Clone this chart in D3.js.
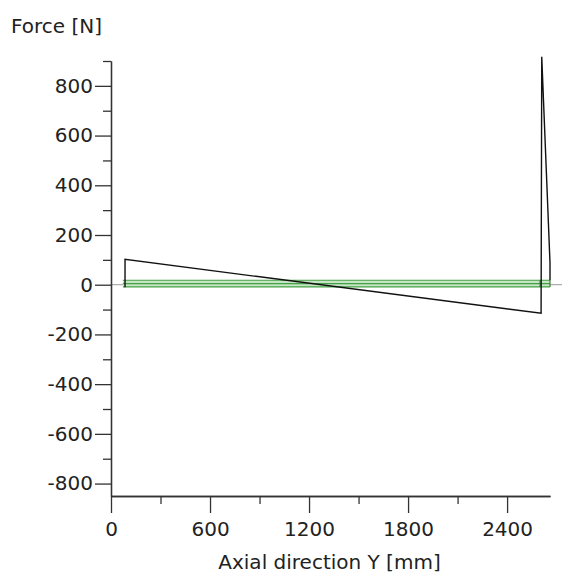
<!DOCTYPE html>
<html>
<head>
<meta charset="utf-8">
<script src="https://cdn.jsdelivr.net/npm/d3@7"></script>
<style>
  body { margin: 0; background: #fff; }
  svg { display: block; }
  text { font-family: "DejaVu Sans", sans-serif; fill: #222; }
</style>
</head>
<body>
<script>
// force line (shear force along the axis)
var posMm  = [85, 85, 2606, 2610, 2660, 2660];
var forceN = [-10, 102, -115, 917, 88, 18];

// green reference band around zero
var bandStart = 72, bandEnd = 2660;
var bandLevels = [18, 4, -9];

var xMajorTicks = [0, 600, 1200, 1800, 2400];
var xMinorTicks = [300, 900, 1500, 2100];
var yMajorTicks = [-800, -600, -400, -200, 0, 200, 400, 600, 800];
var yMinorTicks = [-700, -500, -300, -100, 100, 300, 500, 700, 900];

var width = 562, height = 577;

var svg = d3.select("body").append("svg")
    .attr("width", width)
    .attr("height", height);

var x = d3.scaleLinear()
    .domain([0, 2660])
    .range([111, 550]);

var y = d3.scaleLinear()
    .domain([-850, 900])
    .range([496, 61]);

var plain = function(d) { return String(d); };

// zero line
svg.append("line")
    .attr("x1", x(0)).attr("x2", width)
    .attr("y1", y(0)).attr("y2", y(0))
    .style("stroke", "#9a9a9a")
    .style("stroke-width", 1);

// green band
svg.append("rect")
    .attr("x", x(bandStart))
    .attr("y", y(d3.max(bandLevels)))
    .attr("width", x(bandEnd) - x(bandStart))
    .attr("height", y(d3.min(bandLevels)) - y(d3.max(bandLevels)))
    .style("fill", "#c4e6c4");

svg.selectAll(".band")
    .data(bandLevels)
  .enter().append("line")
    .attr("class", "band")
    .attr("x1", x(bandStart)).attr("x2", x(bandEnd))
    .attr("y1", function(d) { return y(d); })
    .attr("y2", function(d) { return y(d); })
    .style("stroke", "#45a045")
    .style("stroke-width", 1.2);

svg.selectAll(".bandcap")
    .data([2600, bandEnd])
  .enter().append("line")
    .attr("class", "bandcap")
    .attr("x1", function(d) { return x(d); })
    .attr("x2", function(d) { return x(d); })
    .attr("y1", y(d3.max(bandLevels)))
    .attr("y2", y(d3.min(bandLevels)))
    .style("stroke", "#3a7a3a")
    .style("stroke-width", 1.2);

// force line
var pts = posMm.map(function(d, i) { return [d, forceN[i]]; });
var line = d3.line()
    .x(function(d) { return x(d[0]); })
    .y(function(d) { return y(d[1]); });

svg.append("path")
    .datum(pts)
    .attr("d", line)
    .style("fill", "none")
    .style("stroke", "#111")
    .style("stroke-width", 1.4);

// axes
var axisColor = "#333";

var xAxis = d3.axisBottom(x).tickValues(xMajorTicks).tickFormat(plain).tickSize(17).tickPadding(4).tickSizeOuter(0);
var xMinor = d3.axisBottom(x).tickValues(xMinorTicks).tickSize(8).tickFormat("").tickSizeOuter(0);
var yAxis = d3.axisLeft(y).tickValues(yMajorTicks).tickFormat(plain).tickSize(16).tickPadding(2).tickSizeOuter(0);
var yMinor = d3.axisLeft(y).tickValues(yMinorTicks).tickSize(8).tickFormat("").tickSizeOuter(0);

var gx = svg.append("g")
    .attr("transform", "translate(0," + y(-850) + ")")
    .call(xAxis);
svg.append("g")
    .attr("transform", "translate(0," + y(-850) + ")")
    .call(xMinor);

var gy = svg.append("g")
    .attr("transform", "translate(" + x(0) + ",0)")
    .call(yAxis);
svg.append("g")
    .attr("transform", "translate(" + x(0) + ",0)")
    .call(yMinor);

svg.selectAll(".domain, .tick line")
    .style("stroke", axisColor)
    .style("stroke-width", 1.3);

svg.selectAll(".tick text")
    .style("font-family", "DejaVu Sans, sans-serif")
    .style("font-size", "20px")
    .style("fill", "#222");

gx.selectAll(".tick text").attr("dy", "0.95em");

svg.append("text")
    .attr("x", 11)
    .attr("y", 33)
    .style("font-size", "20px")
    .text("Force [N]");

svg.append("text")
    .attr("x", (217 + 442) / 2)
    .attr("y", 569)
    .style("text-anchor", "middle")
    .style("font-size", "20px")
    .text("Axial direction Y [mm]");
</script>
</body>
</html>
